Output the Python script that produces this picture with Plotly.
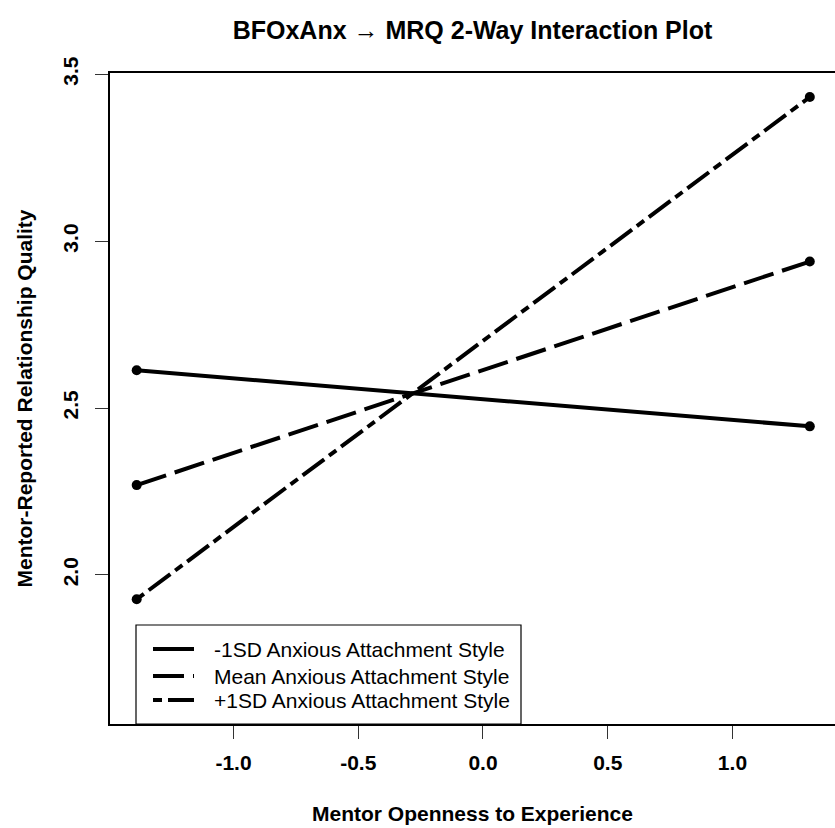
import plotly.graph_objects as go

# ---- data ----
x_vals = [-1.388, 1.310]
series_names = [
    "-1SD Anxious Attachment Style",
    "Mean Anxious Attachment Style",
    "+1SD Anxious Attachment Style",
]
low_sd = [2.613, 2.445]
mean_vals = [2.269, 2.939]
high_sd = [1.927, 3.432]

x_ticks = [-1.0, -0.5, 0.0, 0.5, 1.0]
x_tick_labels = ["-1.0", "-0.5", "0.0", "0.5", "1.0"]
y_ticks = [2.0, 2.5, 3.0, 3.5]
y_tick_labels = ["2.0", "2.5", "3.0", "3.5"]

title_text = "BFOxAnx \u2192 MRQ 2-Way Interaction Plot"
x_title = "Mentor Openness to Experience"
y_title = "Mentor-Reported Relationship Quality"

FONT = "Liberation Sans, Arial, Helvetica, sans-serif"

series = [low_sd, mean_vals, high_sd]
dashes = ["solid", "31px,9px", "9px,6px,27px,6px"]

# plot area in pixels
L, T, W, H = 110, 73, 725, 651


def px_x(p):
    return (p - L) / W


def px_y(p):
    return (T + H - p) / H


fig = go.Figure()
for name, vals, dash in zip(series_names, series, dashes):
    fig.add_trace(go.Scatter(
        x=x_vals, y=vals, name=name, mode="lines+markers",
        line=dict(color="black", width=4, dash=dash),
        marker=dict(color="black", size=10),
        showlegend=False,
    ))

fig.update_layout(
    width=835, height=828, autosize=False,
    margin=dict(l=L, r=835 - L - W, t=T, b=828 - T - H),
    plot_bgcolor="white", paper_bgcolor="white",
    font=dict(family=FONT, color="black"),
    title=dict(text=title_text, x=0.5, xref="paper", xanchor="center",
               y=1 - 30 / 828, yref="container", yanchor="middle",
               font=dict(size=25, weight="bold", family=FONT)),
    showlegend=False,
)

fig.update_xaxes(
    range=[-1.495, 1.411], showgrid=False, zeroline=False,
    showline=True, linecolor="black", linewidth=1.5, mirror=True,
    ticks="outside", ticklen=13, tickwidth=1.2, tickcolor="#333",
    tickvals=x_ticks, ticktext=x_tick_labels,
    tickfont=dict(size=21, weight="bold", family=FONT),
    ticklabelstandoff=6,
)
fig.update_yaxes(
    range=[1.553, 3.504], showgrid=False, zeroline=False,
    showline=True, linecolor="black", linewidth=1.5, mirror=False,
    ticks="outside", ticklen=13, tickwidth=1.2, tickcolor="#333",
    tickvals=y_ticks, ticktext=y_tick_labels, tickangle=-90,
    tickfont=dict(size=21, weight="bold", family=FONT),
    ticklabelstandoff=9,
)

fig.add_annotation(text=x_title, xref="paper", yref="paper",
                   x=0.5, y=px_y(813), xanchor="center", yanchor="middle",
                   showarrow=False, font=dict(size=21, weight="bold", family=FONT))
fig.add_annotation(text=y_title, xref="paper", yref="paper",
                   x=px_x(24), y=0.5, xanchor="center", yanchor="middle",
                   textangle=-90, showarrow=False,
                   font=dict(size=21, weight="bold", family=FONT))

# ---- legend box (drawn like R's legend) ----
fig.add_shape(type="rect", xref="paper", yref="paper",
              x0=px_x(136), x1=px_x(521), y0=px_y(724), y1=px_y(625),
              line=dict(color="black", width=1.2), fillcolor="white", layer="above")
legend_rows = [649, 676, 700]
for name, dash, row in zip(series_names, dashes, legend_rows):
    fig.add_shape(type="line", xref="paper", yref="paper",
                  x0=px_x(153), x1=px_x(194), y0=px_y(row), y1=px_y(row),
                  line=dict(color="black", width=4, dash=dash), layer="above")
    fig.add_annotation(text=name, xref="paper", yref="paper",
                       x=px_x(212), y=px_y(row), xanchor="left", yanchor="middle",
                       showarrow=False, font=dict(size=21, family=FONT))

fig.write_html("out.html", config={"displayModeBar": False},
               post_script="document.body.style.margin='0px';")
